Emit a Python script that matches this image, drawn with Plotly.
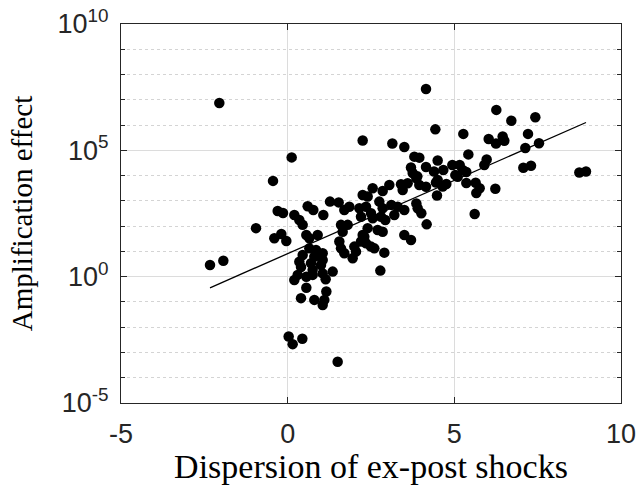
import numpy as np
import plotly.graph_objects as go

# Dispersion of ex-post shocks (x) and log10 of amplification effect
disp = [
    -2.05, 4.15, 2.25, 0.12, -0.44, 6.26, 7.43, 6.71, 4.43, 5.27,
    6.03, 6.25, 6.45, 6.50, 7.21, 7.13, 7.54, 3.14, 3.50, 3.80,
    3.95, 5.42, 5.97, 5.90, 4.50, 3.70, 3.75, 3.89, 4.15, 4.39,
    4.67, 4.94, 5.16, 5.25, 5.36, 5.03, 5.10, 7.07, 7.30, 8.75,
    8.95, 4.50, 4.45, 4.65, 4.76, 3.95, 3.86, 3.60, 3.45, 3.40,
    3.05, 2.85, 2.55, 4.15, 5.36, 5.64, 5.76, 5.66, 6.23, 4.48,
    3.86, 4.01, 4.17, 3.90, 5.61, 2.75, 3.11, 3.30, 3.50, 2.85,
    3.20, 2.25, 2.40, 2.35, 2.15, 2.20, 2.50, 2.55, 2.40, 2.70,
    2.85, 2.80, 2.93, 2.30, 2.35, 2.50, 2.60, 2.90, 3.50, 3.70,
    2.78, 2.00, 2.05, 1.95, 1.55, 1.60, 1.70, 2.25, 2.20, 1.60,
    1.80, 1.65, 1.27, 1.53, 1.70, 1.85, 0.60, 0.77, 1.07, 0.20,
    0.35, 0.45, -0.30, -0.14, -0.95, -0.40, -0.19, -0.04, 0.56, 0.65,
    0.90, 0.65, 0.85, 1.05, 0.80, 1.05, 0.45, 0.35, 0.40, 0.70,
    0.75, 1.00, 1.05, 1.35, 0.30, 0.56, 0.20, 0.75, 1.14, 0.56,
    1.16, 0.40, 0.80, 1.10, 1.05, 0.03, 0.15, 0.44, 1.50, -2.33,
    -1.93,
]
log_amp = [
    6.87, 7.43, 5.39, 4.72, 3.79, 6.60, 6.31, 6.17, 5.83, 5.65,
    5.45, 5.27, 5.55, 5.38, 5.65, 5.09, 5.28, 5.27, 5.13, 4.75,
    4.71, 4.84, 4.64, 4.42, 4.60, 4.32, 4.10, 3.97, 4.34, 4.16,
    4.22, 4.42, 4.42, 4.22, 4.14, 4.02, 3.95, 4.31, 4.39, 4.12,
    4.16, 3.83, 3.73, 3.57, 3.67, 3.63, 3.89, 3.70, 3.43, 3.66,
    3.63, 3.39, 3.50, 3.56, 3.71, 3.72, 3.50, 3.31, 3.48, 3.21,
    2.90, 2.51, 2.07, 2.71, 2.48, 2.97, 2.84, 2.77, 2.64, 2.71,
    2.44, 3.23, 3.17, 2.77, 2.71, 2.37, 2.51, 2.31, 1.92, 1.85,
    1.78, 2.37, 2.24, 1.58, 1.32, 1.19, 1.12, 0.95, 1.65, 1.45,
    0.24, 1.19, 0.99, 0.73, 1.39, 1.12, 0.93, 1.65, 1.39, 2.05,
    2.05, 1.78, 2.97, 2.94, 2.64, 2.77, 2.79, 2.64, 2.44, 2.44,
    2.24, 2.05, 2.60, 2.52, 1.92, 1.52, 1.69, 1.41, 1.65, 1.52,
    1.65, 1.12, 1.06, 0.93, 0.79, 0.66, 0.86, 0.59, 0.38, 0.53,
    0.27, 0.46, 0.13, 0.20, 0.07, 0.00, -0.13, 0.07, -0.10, -0.44,
    -0.59, -0.85, -0.92, -0.92, -1.12, -2.37, -2.67, -2.46, -3.37, 0.46,
    0.63,
]

# Fitted regression line (log10 scale)
fit_intercept = 0.911
fit_slope = 0.58

x_ticks = [-5, 0, 5, 10]
y_tick_exps = [-5, 0, 5, 10]
y_minor_exps = list(range(-5, 11))

amp = [10 ** v for v in log_amp]
x_line = np.array([min(disp), max(disp)])
y_line = 10 ** (fit_intercept + fit_slope * x_line)

fig = go.Figure()
fig.add_trace(go.Scatter(
    x=disp, y=amp, mode="markers",
    marker=dict(color="black", size=10.5, line=dict(width=0)),
    showlegend=False,
))
fig.add_trace(go.Scatter(
    x=x_line, y=y_line, mode="lines",
    line=dict(color="black", width=1.3),
    showlegend=False,
))

axis_color = "#262626"
tick_font = dict(family="Liberation Sans, Arial, sans-serif", size=27, color=axis_color)
xtitle_font = dict(family="Liberation Serif, Times New Roman, serif", size=34, color="black")
ytitle_font = dict(family="Liberation Serif, Times New Roman, serif", size=29, color="black")

fig.update_xaxes(
    range=[-5, 10],
    automargin=False,
    tickvals=x_ticks,
    ticktext=[str(t) for t in x_ticks],
    tickfont=tick_font,
    ticklabelstandoff=6,
    showgrid=True, gridcolor="#dcdcdc", gridwidth=1,
    zeroline=False,
    showline=True, linecolor=axis_color, linewidth=1.2, mirror="ticks",
    ticks="inside", ticklen=6, tickcolor=axis_color,
    title=dict(text="Dispersion of ex-post shocks", font=xtitle_font, standoff=4),
)
fig.update_yaxes(
    type="log",
    range=[-5, 10],
    automargin=False,
    tickvals=[10.0 ** e for e in y_tick_exps],
    ticktext=["10<sup>%d</sup>" % e for e in y_tick_exps],
    tickfont=tick_font,
    ticklabelstandoff=6,
    showgrid=True, gridcolor="#dcdcdc", gridwidth=1,
    zeroline=False,
    showline=True, linecolor=axis_color, linewidth=1.2, mirror="ticks",
    ticks="inside", ticklen=6, tickcolor=axis_color,
    minor=dict(
        tickvals=[10.0 ** e for e in y_minor_exps],
        ticks="inside", ticklen=4, tickcolor=axis_color,
        showgrid=True, gridcolor="#d4d4d4", griddash="dot", gridwidth=1,
    ),
    title=dict(text="Amplification effect", font=ytitle_font, standoff=16),
)
fig.update_layout(
    width=638, height=491,
    margin=dict(l=121, r=17, t=24, b=88),
    paper_bgcolor="white", plot_bgcolor="white",
)
fig.write_html("out.html")
